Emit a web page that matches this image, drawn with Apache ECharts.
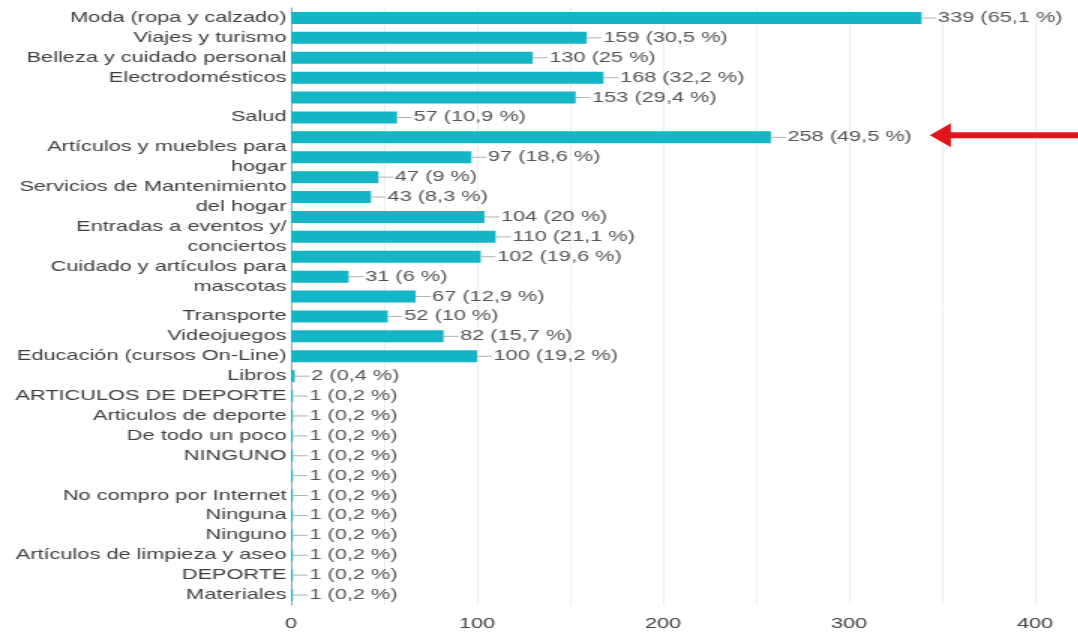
<!DOCTYPE html>
<html><head><meta charset="utf-8">
<script src="https://cdn.jsdelivr.net/npm/echarts@6/dist/echarts.min.js"></script>
<style>
html,body{margin:0;padding:0;background:#fff;overflow:hidden}
#wrap{width:1078px;height:635px;overflow:hidden;position:relative}
#chart{width:719px;height:635px;transform:scaleX(1.5);transform-origin:0 0}
</style></head><body><div id="wrap"><div id="chart"></div></div>
<script>
const categories = [
  'Moda (ropa y calzado)', 'Viajes y turismo', 'Belleza y cuidado personal', 'Electrodomésticos', '',
  'Salud', '', 'Artículos y muebles para\nhogar', '', 'Servicios de Mantenimiento\ndel hogar',
  '', 'Entradas a eventos y/\nconciertos', '', 'Cuidado y artículos para\nmascotas', '',
  'Transporte', 'Videojuegos', 'Educación (cursos On-Line)', 'Libros', 'ARTICULOS DE DEPORTE',
  'Articulos de deporte', 'De todo un poco', 'NINGUNO', '', 'No compro por Internet',
  'Ninguna', 'Ninguno', 'Artículos de limpieza y aseo', 'DEPORTE', 'Materiales'
];
const counts = [339, 159, 130, 168, 153, 57, 258, 97, 47, 43, 104, 110, 102, 31, 67, 52, 82, 100, 2, 1, 1, 1, 1, 1, 1, 1, 1, 1, 1, 1];
const percents = [65.1, 30.5, 25, 32.2, 29.4, 10.9, 49.5, 18.6, 9, 8.3, 20, 21.1, 19.6, 6, 12.9, 10, 15.7, 19.2, 0.4, 0.2, 0.2, 0.2, 0.2, 0.2, 0.2, 0.2, 0.2, 0.2, 0.2, 0.2];
const xTickLabels = [0, 100, 200, 300, 400];
const highlightIndex = 6;

const chart = echarts.init(document.getElementById('chart'));
const font = 'Liberation Sans, Arial, sans-serif';
chart.setOption({
  animation: false,
  backgroundColor: '#fff',
  grid: { left: 194, right: 29, top: 8, bottom: 30, containLabel: false },
  xAxis: {
    type: 'value', min: 0, max: 400, interval: 50,
    axisLine: { show: false }, axisTick: { show: false },
    splitLine: { lineStyle: { color: '#f0f0f0', width: 1 } },
    axisLabel: {
      fontFamily: font, fontSize: 14.5, color: '#444', margin: 11,
      formatter: v => xTickLabels.indexOf(v) >= 0 ? String(v) : ''
    }
  },
  yAxis: {
    type: 'category', inverse: true, data: categories,
    axisLine: { show: true, lineStyle: { color: '#9aa8ad', width: 1 } },
    axisTick: { show: false },
    axisLabel: { fontFamily: font, fontSize: 14.5, color: '#3f3f3f', margin: 3, lineHeight: 20, interval: 0 }
  },
  series: [{
    type: 'bar', data: counts, barWidth: 12,
    itemStyle: { color: '#14b6c5' },
    label: {
      show: true, position: 'right', distance: 0,
      formatter: p => '{l|}{t|' + counts[p.dataIndex] + ' (' + String(percents[p.dataIndex]).replace('.', ',') + ' %)}',
      rich: {
        l: { width: 10, height: 1, backgroundColor: '#b0b0b0' },
        t: { fontFamily: font, fontSize: 14.5, color: '#555', padding: [0, 0, 0, 1] }
      }
    }
  }]
});

const p = chart.convertToPixel({ xAxisIndex: 0, yAxisIndex: 0 }, [counts[highlightIndex], highlightIndex]);
const tx = p[0] + 106, cy = p[1] - 2, W = 719;
chart.setOption({
  graphic: [{
    type: 'polygon', silent: true,
    shape: { points: [[tx, cy], [tx + 14, cy - 12], [tx + 14, cy - 3], [W, cy - 3], [W, cy + 3], [tx + 14, cy + 3], [tx + 14, cy + 12]] },
    style: { fill: '#e3141c' }
  }]
});
</script></body></html>
